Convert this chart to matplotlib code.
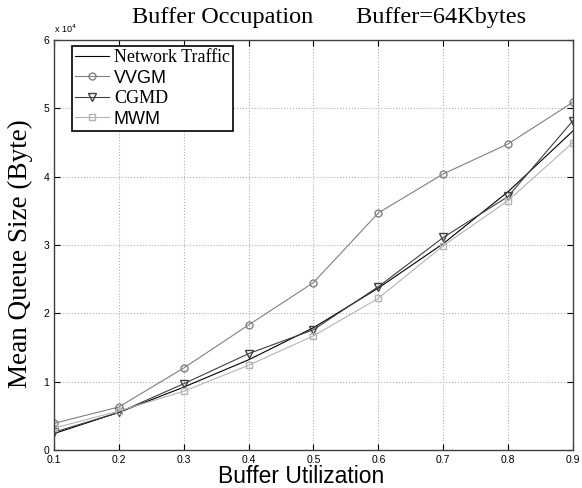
import matplotlib
matplotlib.use('Agg')
import matplotlib.pyplot as plt

# Data:
utilization = [0.1, 0.2, 0.3, 0.4, 0.5, 0.6, 0.7, 0.8, 0.9]
network_traffic = [2400, 5500, 9200, 13200, 17900, 23700, 30200, 37800, 46700]
vvgm = [3900, 6300, 12000, 18300, 24500, 34700, 40400, 44800, 50900]
cgmd = [2600, 5500, 9700, 14100, 17600, 23900, 31100, 37100, 48200]
mwm = [3200, 5700, 8600, 12400, 16700, 22200, 29900, 36500, 45000]

serif = 'Liberation Serif'
sans = 'Liberation Sans'

fig = plt.figure(figsize=(5.82, 4.88), dpi=100)
ax = fig.add_axes([0.0928, 0.0779, 0.8917, 0.8401])

ax.plot(utilization, network_traffic, color='black', lw=0.8, label='Network Traffic')
ax.plot(utilization, vvgm, color='#808080', lw=0.8, marker='o', ms=5, mfc='none', label='VVGM')
ax.plot(utilization, cgmd, color='#404040', lw=0.8, marker='v', ms=6, mfc='none', label='CGMD')
ax.plot(utilization, mwm, color='#b4b4b4', lw=0.8, marker='s', ms=4, mfc='none', label='MWM')

ax.set_xlim(0.1, 0.9)
ax.set_ylim(0, 60000)
ax.set_xticks(utilization)
ax.set_xticklabels([f'{v:.1f}' for v in utilization])
ax.set_yticks([0, 10000, 20000, 30000, 40000, 50000, 60000])
ax.set_yticklabels(['0', '1', '2', '3', '4', '5', '6'])
ax.tick_params(direction='in', labelsize=7.5, length=4, top=True, right=True)
for lbl in ax.get_xticklabels() + ax.get_yticklabels():
    lbl.set_family(sans)
ax.grid(True, linestyle=':', color='#b0b0b0', lw=0.8)
for s in ax.spines.values():
    s.set_color('#404040')
    s.set_linewidth(1.0)

ax.text(0.0, 1.012, r'x 10$^4$', transform=ax.transAxes, fontsize=6.5, family=sans, ha='left', va='bottom')

fig.text(0.566, 0.965, 'Buffer Occupation       Buffer=64Kbytes', fontsize=17.5, family=serif, ha='center', va='center')
ax.set_xlabel('Buffer Utilization', fontsize=16.5, family=sans)
ax.xaxis.set_label_coords(0.477, -0.036)
ax.set_ylabel('Mean Queue Size (Byte)', fontsize=19.5, family=serif)
ax.yaxis.set_label_coords(-0.041, 0.48)

leg = ax.legend(loc='upper left', bbox_to_anchor=(0.025, 0.998), fancybox=False, edgecolor='black',
                framealpha=1, fontsize=13, handlelength=1.9, borderpad=0.15, labelspacing=0.2,
                handletextpad=0.25, borderaxespad=0.3)
leg.get_frame().set_linewidth(1.2)
fonts = [serif, sans, serif, sans]
for t, f in zip(leg.get_texts(), fonts):
    t.set_family(f)

fig.savefig('out.png', dpi=100)
